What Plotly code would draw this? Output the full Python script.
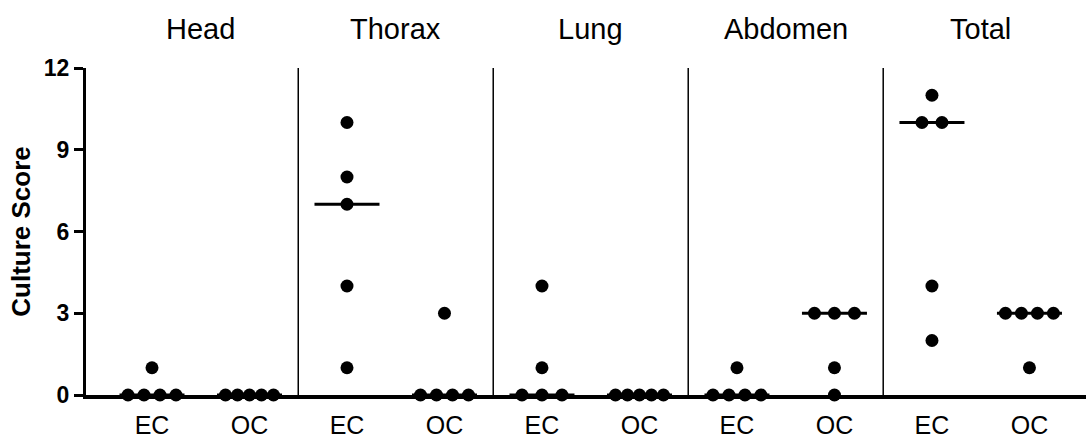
import numpy as np
import plotly.graph_objects as go

# ---- data ----
regions = ["Head", "Thorax", "Lung", "Abdomen", "Total"]
groups = ["EC", "OC"]
head_ec = [1, 0, 0, 0, 0]
head_oc = [0, 0, 0, 0, 0]
thorax_ec = [10, 8, 7, 4, 1]
thorax_oc = [3, 0, 0, 0, 0]
lung_ec = [4, 1, 0, 0, 0]
lung_oc = [0, 0, 0, 0, 0]
abdomen_ec = [1, 0, 0, 0, 0]
abdomen_oc = [3, 3, 3, 1, 0]
total_ec = [11, 10, 10, 4, 2]
total_oc = [3, 3, 3, 3, 1]
series = [head_ec, head_oc, thorax_ec, thorax_oc, lung_ec, lung_oc,
          abdomen_ec, abdomen_oc, total_ec, total_oc]
y_ticks = [0, 3, 6, 9, 12]
y_title = "Culture Score"

# ---- layout constants ----
W, H = 1086, 439
ML, MR, MT, MB = 86, 0, 68, 44
XR = [-0.677, 9.58]
ppu = (W - ML - MR) / (XR[1] - XR[0])  # px per x unit
FONT = "Liberation Sans, Arial, sans-serif"
MARKER = 13


def swarm_offsets(vals):
    vals = list(vals)
    offs = [0.0] * len(vals)
    for v in set(vals):
        idx = [i for i, u in enumerate(vals) if u == v]
        n = len(idx)
        if n > 1:
            sp = min(20.0, 48.0 / (n - 1))
            for k, i in enumerate(idx):
                offs[i] = (k - (n - 1) / 2) * sp / ppu
    return offs


fig = go.Figure()
xs_all, ys_all = [], []
for i, vals in enumerate(series):
    offs = swarm_offsets(vals)
    xs_all += [i + o for o in offs]
    ys_all += list(vals)

# median lines
half = 32.5 / ppu
for i, vals in enumerate(series):
    m = float(np.median(vals))
    fig.add_trace(go.Scatter(x=[i - half, i + half], y=[m, m], mode="lines",
                             line=dict(color="black", width=3),
                             cliponaxis=False, hoverinfo="skip", showlegend=False))

fig.add_trace(go.Scatter(x=xs_all, y=ys_all, mode="markers",
                         marker=dict(color="black", size=MARKER, line=dict(width=0)),
                         cliponaxis=False, showlegend=False))

# separators between regions
for r in range(1, len(regions)):
    xp = 2 * r - 0.5
    fig.add_shape(type="line", xref="x", yref="y", x0=xp, x1=xp, y0=0,
                  y1=12 + 6 / 27.25, line=dict(color="black", width=1.5),
                  layer="below")

# region titles
for r, name in enumerate(regions):
    fig.add_annotation(x=2 * r + 0.5, xref="x", y=(H - MB - 29) / (H - MT - MB),
                       yref="paper", text=name, showarrow=False, yanchor="middle",
                       font=dict(family=FONT, size=29, color="black"))

tickvals = list(range(len(series)))
ticktext = [groups[i % 2] for i in tickvals]

fig.update_layout(
    width=W, height=H, margin=dict(l=ML, r=MR, t=MT, b=MB),
    paper_bgcolor="white", plot_bgcolor="white",
    font=dict(family=FONT, color="black"),
    xaxis=dict(range=XR, showline=True, linecolor="black", linewidth=3.5,
               showgrid=False, zeroline=False, ticks="", tickvals=tickvals,
               ticktext=ticktext, tickfont=dict(size=25, family=FONT),
               ticklabelstandoff=5, automargin=False, fixedrange=True),
    yaxis=dict(range=[0, 12], showline=True, linecolor="black", linewidth=3,
               showgrid=False, zeroline=False, ticks="outside", ticklen=9,
               tickwidth=3, tickcolor="black", tickvals=y_ticks,
               tickfont=dict(size=23, family=FONT, weight="bold"),
               title=dict(text=y_title, standoff=6,
                          font=dict(size=26, family=FONT, weight="bold")),
               automargin=False, fixedrange=True),
)

fig.write_html("out.html")
